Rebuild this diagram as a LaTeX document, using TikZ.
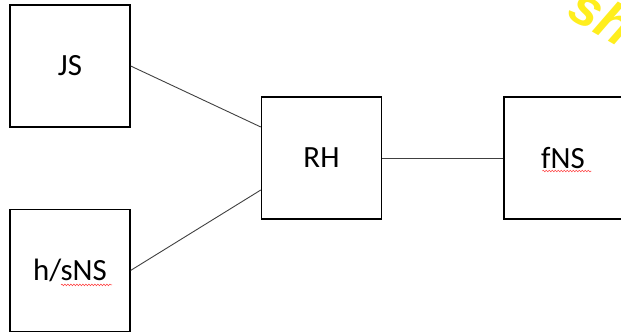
\documentclass[tikz,border=0pt]{standalone}
\usepackage{xcolor}
\usepackage{fontspec}
\setmainfont{Carlito}
\setsansfont{Liberation Sans}
\usepackage{tikz}
\usetikzlibrary{calc}
\usetikzlibrary{positioning}
\usetikzlibrary{decorations.pathmorphing}
\definecolor{wmyellow}{RGB}{255,238,30}

\begin{document}
\begin{tikzpicture}[x=1bp,y=-1bp,-,semithick]
	\tikzstyle{blk}=[draw, line width=1.4bp, minimum width=120bp, minimum height=122bp, inner sep=0pt, font=\fontsize{31}{36}\selectfont]
	\tikzstyle{wire}=[black!75, line width=0.9bp]
	\tikzstyle{squig}=[red!80, line width=0.5bp, decorate, decoration={snake, amplitude=0.8bp, segment length=3bp}]
	\useasboundingbox (0,0) rectangle (621,333);
	\clip (0,0) rectangle (621,333);
		\node[blk] (JS) at (70,66) {JS};
		\node[blk] (hsNS) [below=81bp of JS] {h/sNS};
		\node[blk] (RH) at (321.5,158) {RH};
		\node[blk, minimum width=118bp] (fNS) [right=121bp of RH] {fNS};

		% links
		\draw[wire] (JS.east) -- ($(RH.west)+(0,-31)$);
		\draw[wire] (hsNS.east) -- ($(RH.west)+(0,32)$);
		\draw[wire] (RH.east) -- (fNS.west);

		% spell check marks
		\draw[squig] ($(hsNS.center)+(-9,14.5)$) -- ($(hsNS.center)+(42,14.5)$);
		\draw[squig] ($(fNS.center)+(-20.5,13)$) -- ($(fNS.center)+(28.5,13)$);

		\node[text=wmyellow, font=\fontsize{54}{54}\selectfont\sffamily\bfseries\itshape, rotate=-30] (mark) at (602,16) {sh};
\end{tikzpicture}
\end{document}
